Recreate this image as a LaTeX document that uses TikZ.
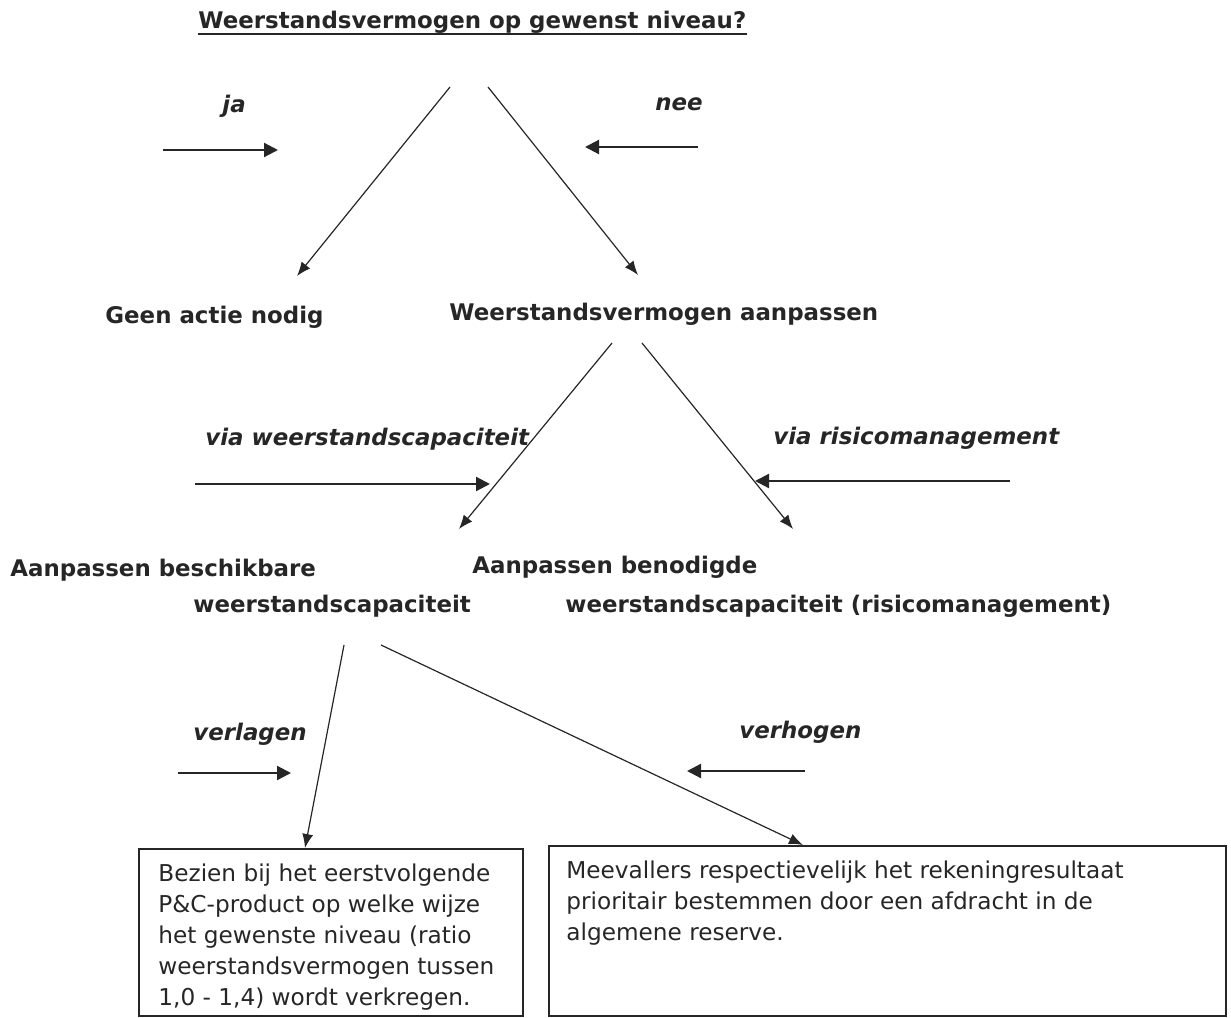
\documentclass[tikz,border=0pt]{standalone}
\usepackage{fontspec}
\setmainfont{DejaVu Sans}
\usetikzlibrary{arrows.meta}
\definecolor{ink}{RGB}{38,38,38}
\begin{document}
\begin{tikzpicture}[x=0.5pt,y=-0.5pt,
  lbl/.style={inner sep=0pt, anchor=base west, text=ink, font=\fontsize{11.45}{14}\selectfont\bfseries},
  ital/.style={lbl, font=\fontsize{11.45}{14}\selectfont\bfseries\itshape},
  flow/.style={draw=ink, line width=0.6pt, -{Latex[length=7pt,width=5.5pt]}},
  hint/.style={draw=ink, line width=1.1pt, -{Triangle[length=7pt,width=7pt]}},
  boxed/.style={draw=ink, line width=0.8pt, inner sep=0pt, anchor=north west},
  body/.style={inner sep=0pt, anchor=north west, align=left, text=ink, font=\fontsize{11.6}{15.5}\selectfont}]
\useasboundingbox (0,0) rectangle (1231,1017);

% texts
\node[lbl] (title) at (198,28) {Weerstandsvermogen op gewenst niveau?};
\draw[ink, line width=1.1pt] ([yshift=-3pt]title.base west) -- ([yshift=-3pt]title.base east);
\node[ital] (ja) at (222,112) {ja};
\node[ital] (nee) at (655,110) {nee};
\node[lbl] (geen) at (105,323) {Geen actie nodig};
\node[lbl] (wva) at (449,320) {Weerstandsvermogen aanpassen};
\node[ital] (viaw) at (205,445) {via weerstandscapaciteit};
\node[ital] (viar) at (773,444) {via risicomanagement};
\node[lbl] (abs) at (10,576) {Aanpassen beschikbare};
\node[lbl] (abs2) at (193,612) {weerstandscapaciteit};
\node[lbl] (abn) at (472,573) {Aanpassen benodigde};
\node[lbl] (abn2) at (565,612) {weerstandscapaciteit (risicomanagement)};
\node[ital] (verl) at (193,740) {verlagen};
\node[ital] (verh) at (739,738) {verhogen};

% boxes
\node[boxed, minimum width=192pt, minimum height=83.5pt] (box1) at (138,848) {};
\node[boxed, minimum width=338.5pt, minimum height=85pt] (box2) at (548,845) {};
\node[body] (box1t) at (158,863) {Bezien bij het eerstvolgende\\P\&C-product op welke wijze\\het gewenste niveau (ratio\\weerstandsvermogen tussen\\1,0 - 1,4) wordt verkregen.};
\node[body] (box2t) at (566,860) {Meevallers respectievelijk het rekeningresultaat\\prioritair bestemmen door een afdracht in de\\algemene reserve.};

% connector end points
\coordinate (a1s) at (450,87);  \coordinate (a1e) at (297,276);
\coordinate (a2s) at (488,87);  \coordinate (a2e) at (638,275);
\coordinate (b1s) at (612,343); \coordinate (b1e) at (459,529);
\coordinate (b2s) at (642,343); \coordinate (b2e) at (793,529);
\coordinate (c1s) at (344,645); \coordinate (c1e) at (305,848);
\coordinate (c2s) at (381,645); \coordinate (c2e) at (803,845);

\draw[flow] (a1s) -- (a1e);
\draw[flow] (a2s) -- (a2e);
\draw[flow] (b1s) -- (b1e);
\draw[flow] (b2s) -- (b2e);
\draw[flow] (c1s) -- (c1e);
\draw[flow] (c2s) -- (c2e);

% direction hints
\coordinate (h1s) at (163,150); \coordinate (h1e) at (278,150);
\coordinate (h2s) at (698,147); \coordinate (h2e) at (585,147);
\coordinate (h3s) at (195,484); \coordinate (h3e) at (490,484);
\coordinate (h4s) at (1010,481); \coordinate (h4e) at (755,481);
\coordinate (h5s) at (178,773); \coordinate (h5e) at (291,773);
\coordinate (h6s) at (805,771); \coordinate (h6e) at (687,771);
\draw[hint] (h1s) -- (h1e);
\draw[hint] (h2s) -- (h2e);
\draw[hint] (h3s) -- (h3e);
\draw[hint] (h4s) -- (h4e);
\draw[hint] (h5s) -- (h5e);
\draw[hint] (h6s) -- (h6e);
\end{tikzpicture}
\end{document}
